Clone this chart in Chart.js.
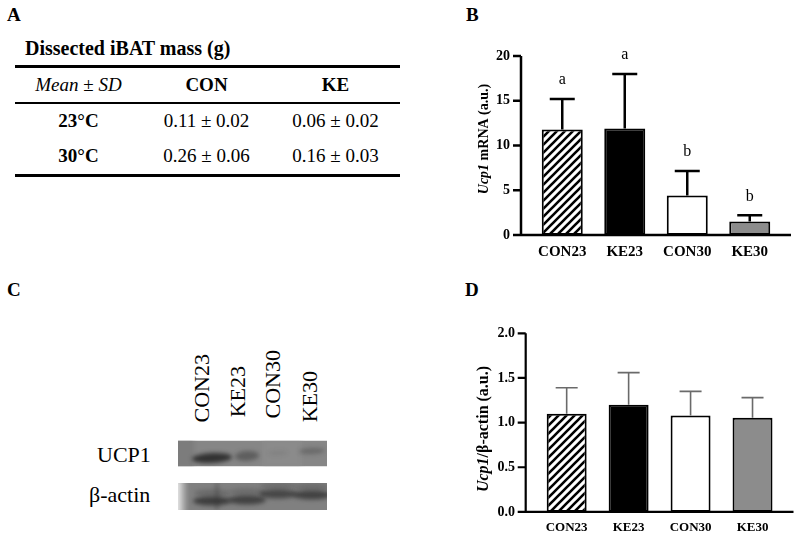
<!DOCTYPE html>
<html>
<head>
<meta charset="utf-8">
<script src="https://cdn.jsdelivr.net/npm/chart.js@4.4.0/dist/chart.umd.min.js"></script>
<style>
  html, body { margin: 0; padding: 0; background: #fff; }
  body { width: 798px; height: 541px; position: relative; overflow: hidden;
         font-family: "Liberation Serif", "Times New Roman", serif; color: #000; }
  .letter { position: absolute; font-weight: bold; font-size: 19px; line-height: 19px; }
  .title { position: absolute; left: 25px; top: 37px; font-weight: bold; font-size: 20px; line-height: 22px; white-space: nowrap; }
  table.mass { position: absolute; left: 15px; top: 64.5px; width: 385px; border-spacing: 0;
               border-top: 3px solid #000; border-bottom: 3px solid #000; table-layout: fixed; }
  table.mass td, table.mass th { padding: 0; height: 35px; font-size: 19px; text-align: center; white-space: nowrap; font-weight: normal; }
  table.mass thead th { height: 34px; border-bottom: 2px solid #000; }
  .lane { position: absolute; writing-mode: vertical-rl; transform: rotate(180deg);
          font-size: 22px; line-height: 22px; width: 22px; white-space: nowrap; }
  .blotlab { position: absolute; font-size: 22px; line-height: 22px; white-space: nowrap; }
  canvas { position: absolute; }
</style>
</head>
<body>

<div class="letter" style="left:7px;top:5px;">A</div>
<div class="letter" style="left:466px;top:5px;">B</div>
<div class="letter" style="left:7px;top:280px;">C</div>
<div class="letter" style="left:465px;top:280px;">D</div>

<div class="title">Dissected iBAT mass (g)</div>
<table class="mass">
  <colgroup><col style="width:127px"><col style="width:129px"><col style="width:129px"></colgroup>
  <thead><tr><th><i>Mean</i> ± <i>SD</i></th><th><b>CON</b></th><th><b>KE</b></th></tr></thead>
  <tbody id="massBody"></tbody>
</table>

<canvas id="blot" width="170" height="90" style="left:170px;top:430px;"></canvas>
<div id="blotLabels"></div>

<canvas id="chartB" width="358" height="270" style="left:440px;top:0px;"></canvas>
<canvas id="chartD" width="358" height="271" style="left:440px;top:270px;"></canvas>

<script>
// groups shared by both bar charts and the blot
const groups = ['CON23', 'KE23', 'CON30', 'KE30'];

// B: Ucp1 mRNA
const mrnaMean = [11.8, 11.9, 4.4, 1.5];
const mrnaSd = [3.4, 6.1, 2.75, 0.7];
const mrnaLetters = ['a', 'a', 'b', 'b'];

// D: UCP1 / beta-actin
const protMean = [1.10, 1.20, 1.08, 1.055];
const protSd = [0.29, 0.36, 0.27, 0.225];

// A: dissected iBAT mass table
const tempRows = ['23°C', '30°C'];
const massCon = ['0.11 ± 0.02', '0.26 ± 0.06'];
const massKe = ['0.06 ± 0.02', '0.16 ± 0.03'];

// C: band darkness per lane (0..1), rough read of the blot
const ucp1Bands = [0.85, 0.4, 0.08, 0.3];
const actinBands = [0.75, 0.7, 0.65, 0.7];

Chart.defaults.font.family = '"Liberation Serif", "Times New Roman", serif';
Chart.defaults.color = '#000';

// table rows
document.getElementById('massBody').innerHTML = tempRows.map((t, i) =>
  `<tr><td><b>${t}</b></td><td>${massCon[i]}</td><td>${massKe[i]}</td></tr>`
).join('');

// blot lane labels
const laneX = [201.7, 238, 272.7, 310];
const laneBottom = [422, 417, 418, 422];
let labHtml = groups.map((g, i) =>
  `<div class="lane" style="left:${laneX[i] - 11}px;bottom:${541 - laneBottom[i]}px;">${g}</div>`
).join('');
labHtml += '<div class="blotlab" style="left:97px;top:444px;">UCP1</div>';
labHtml += '<div class="blotlab" style="left:89px;top:484px;">β-actin</div>';
document.getElementById('blotLabels').innerHTML = labHtml;

function drawBlot() {
  const ctx = document.getElementById('blot').getContext('2d');
  const bandX = [42, 77, 108, 142];

  // UCP1 strip
  ctx.save();
  ctx.beginPath(); ctx.rect(8, 10.5, 149, 26); ctx.clip();
  ctx.fillStyle = '#868686'; ctx.fillRect(8, 10.5, 149, 26);
  ctx.filter = 'blur(2px)';
  ctx.fillStyle = 'rgba(150,150,150,0.35)'; ctx.fillRect(92, 8, 40, 30);
  ctx.fillStyle = 'rgba(110,110,110,0.4)'; ctx.fillRect(4, 8, 20, 30);
  const uy = [28, 26, 23, 21], urx = [20, 12, 10, 13], ury = [5, 5, 3, 3];
  ucp1Bands.forEach((v, i) => {
    ctx.fillStyle = `rgba(35,35,35,${v})`;
    ctx.beginPath(); ctx.ellipse(bandX[i], uy[i], urx[i], ury[i], -0.05, 0, Math.PI * 2); ctx.fill();
  });
  ctx.restore();

  // beta-actin strip
  ctx.save();
  ctx.beginPath(); ctx.rect(8, 53, 149, 27); ctx.clip();
  ctx.fillStyle = '#808080'; ctx.fillRect(8, 53, 149, 27);
  ctx.filter = 'blur(2px)';
  const g = ctx.createLinearGradient(6, 0, 18, 0);
  g.addColorStop(0, 'rgba(245,245,245,1)'); g.addColorStop(1, 'rgba(245,245,245,0)');
  ctx.fillStyle = g; ctx.fillRect(4, 50, 16, 34);
  const ay = [71, 70, 64, 65];
  actinBands.forEach((v, i) => {
    ctx.fillStyle = `rgba(40,40,40,${v})`;
    ctx.beginPath(); ctx.ellipse(bandX[i], ay[i], 19, 4.5, 0, 0, Math.PI * 2); ctx.fill();
    ctx.fillStyle = `rgba(60,60,60,${v * 0.4})`;
    ctx.beginPath(); ctx.ellipse(bandX[i], ay[i] - 8, 18, 4, 0, 0, Math.PI * 2); ctx.fill();
  });
  ctx.fillStyle = 'rgba(40,40,40,0.5)'; ctx.fillRect(46, 53, 2, 27);
  ctx.restore();
}
drawBlot();

function hatchPattern() {
  const c = document.createElement('canvas');
  c.width = 8; c.height = 8;
  const p = c.getContext('2d');
  p.fillStyle = '#fff'; p.fillRect(0, 0, 8, 8);
  p.strokeStyle = '#000'; p.lineWidth = 2.6;
  p.beginPath();
  p.moveTo(0, 8); p.lineTo(8, 0);
  p.moveTo(-4, 4); p.lineTo(4, -4);
  p.moveTo(4, 12); p.lineTo(12, 4);
  p.stroke();
  return p.createPattern(c, 'repeat');
}

const barFills = [hatchPattern(), '#000', '#fff', '#8c8c8c'];

// error bars, letters, axis lines, tick marks and the mixed-style y title
function prismPlugin(o) {
  return {
    id: 'prism',
    afterDatasetsDraw(chart) {
      const { ctx, chartArea: a, scales: { y } } = chart;
      const bars = chart.getDatasetMeta(0).data;
      ctx.save();
      ctx.strokeStyle = o.errColor;
      ctx.lineWidth = o.errWidth;
      bars.forEach((bar, i) => {
        const top = y.getPixelForValue(o.mean[i] + o.sd[i]);
        ctx.beginPath();
        ctx.moveTo(bar.x, bar.y);
        ctx.lineTo(bar.x, top);
        ctx.moveTo(bar.x - o.cap / 2, top);
        ctx.lineTo(bar.x + o.cap / 2, top);
        ctx.stroke();
        if (o.letters) {
          ctx.fillStyle = '#000';
          ctx.font = '16px "Liberation Serif"';
          ctx.textAlign = 'center';
          ctx.textBaseline = 'middle';
          ctx.fillText(o.letters[i], bar.x, top - 19);
        }
      });

      const ax = a.left - 10;
      ctx.strokeStyle = '#000';
      ctx.lineWidth = o.axisWidth;
      ctx.beginPath();
      ctx.moveTo(ax, a.top);
      ctx.lineTo(ax, a.bottom);
      ctx.moveTo(ax - o.axisWidth / 2, a.bottom);
      ctx.lineTo(a.right + 10, a.bottom);
      y.ticks.forEach(t => {
        const py = y.getPixelForValue(t.value);
        ctx.moveTo(ax - 8, py);
        ctx.lineTo(ax, py);
      });
      ctx.stroke();

      // y title: italic gene name + plain rest
      ctx.translate(o.titleX, o.titleY);
      ctx.rotate(-Math.PI / 2);
      ctx.textBaseline = 'middle';
      ctx.textAlign = 'left';
      const f1 = `italic bold ${o.titleSize}px "Liberation Serif"`;
      const f2 = `bold ${o.titleSize}px "Liberation Serif"`;
      ctx.font = f1; const w1 = ctx.measureText(o.title[0]).width;
      ctx.font = f2; const w2 = ctx.measureText(o.title[1]).width;
      let sx = -(w1 + w2) / 2;
      ctx.fillStyle = '#000';
      ctx.font = f1; ctx.fillText(o.title[0], sx, 0);
      ctx.font = f2; ctx.fillText(o.title[1], sx + w1, 0);
      ctx.restore();
    }
  };
}

function barChart(id, o) {
  return new Chart(document.getElementById(id), {
    type: 'bar',
    data: {
      labels: groups,
      datasets: [{
        data: o.mean,
        backgroundColor: barFills,
        borderColor: '#000',
        borderWidth: 2,
        borderSkipped: false,
        barPercentage: o.barPct,
        categoryPercentage: 1
      }]
    },
    options: {
      responsive: false,
      animation: false,
      events: [],
      layout: { padding: o.padding },
      plugins: { legend: { display: false }, tooltip: { enabled: false } },
      scales: {
        x: {
          grid: { display: false, drawTicks: false },
          border: { display: false },
          ticks: { font: { size: o.xFont, weight: 'bold' }, padding: o.xPad, maxRotation: 0, autoSkip: false },
          afterFit: s => { s.height = o.xHeight; }
        },
        y: {
          min: 0, max: o.max,
          grid: { display: false, drawTicks: false },
          border: { display: false },
          ticks: {
            stepSize: o.step,
            font: { size: o.yFont, weight: 'bold' },
            padding: o.yPad,
            callback: v => o.fmt(v)
          },
          afterFit: s => { s.width = o.yWidth; }
        }
      }
    },
    plugins: [prismPlugin(o)]
  });
}

barChart('chartB', {
  mean: mrnaMean, sd: mrnaSd, letters: mrnaLetters,
  max: 20, step: 5, fmt: v => String(v),
  padding: { top: 56, right: 17, left: 0, bottom: 0 },
  yWidth: 91, xHeight: 35, yPad: 21, xPad: 8, xFont: 15, yFont: 14,
  barPct: 0.656, cap: 25, errColor: '#000', errWidth: 2.5, axisWidth: 2.5,
  title: ['Ucp1', ' mRNA (a.u.)'], titleSize: 14, titleX: 44.5, titleY: 139
});

barChart('chartD', {
  mean: protMean, sd: protSd, letters: null,
  max: 2, step: 0.5, fmt: v => v.toFixed(1),
  padding: { top: 63.3, right: 14.5, left: 0, bottom: 0 },
  yWidth: 95.7, xHeight: 27.7, yPad: 20.7, xPad: 8, xFont: 13, yFont: 14,
  barPct: 0.645, cap: 22, errColor: '#6a6a6a', errWidth: 1.6, axisWidth: 2.2,
  title: ['Ucp1', '/β-actin (a.u.)'], titleSize: 16, titleX: 44, titleY: 159
});
</script>
</body>
</html>
